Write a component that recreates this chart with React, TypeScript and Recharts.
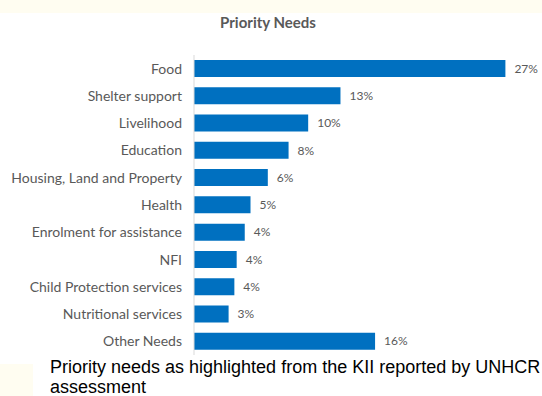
import { BarChart, Bar, XAxis, YAxis, LabelList } from "recharts";

const categories = [
  "Food",
  "Shelter support",
  "Livelihood",
  "Education",
  "Housing, Land and Property",
  "Health",
  "Enrolment for assistance",
  "NFI",
  "Child Protection services",
  "Nutritional services",
  "Other Needs",
];

// bar lengths as drawn (percent)
const shares = [27, 12.7, 9.9, 8.2, 6.4, 4.9, 4.4, 3.7, 3.5, 3.0, 15.7];

// labels printed next to each bar
const shareLabels = ["27%", "13%", "10%", "8%", "6%", "5%", "4%", "4%", "4%", "3%", "16%"];

const GREY = "#595959";
const BLUE = "#0070C0";

const data = categories.map((name, i) => ({ name, value: shares[i], label: shareLabels[i] }));

export default function App() {
  return (
    <div
      style={{
        position: "relative",
        width: 542,
        height: 396,
        background: "#ffffff",
        overflow: "hidden",
      }}
    >
      <style>{`body{margin:0}`}</style>

      {/* cream band at the top of the cropped page */}
      <div style={{ position: "absolute", left: 0, top: 0, width: 542, height: 13, background: "#fffdf1" }} />
      <div style={{ position: "absolute", left: 0, top: 364, width: 33, height: 32, background: "#fffdf1" }} />

      <div
        style={{
          position: "absolute",
          left: 0,
          top: 13,
          width: 536,
          textAlign: "center",
          fontFamily: "Lato, sans-serif",
          fontWeight: 700,
          fontSize: 15,
          color: GREY,
        }}
      >
        Priority Needs
      </div>

      <div style={{ position: "absolute", left: 0, top: 0 }}>
        <BarChart
          width={542}
          height={360}
          data={data}
          layout="vertical"
          margin={{ top: 55, right: 2, left: 0, bottom: 5 }}
        >
          <XAxis type="number" domain={[0, 30]} hide />
          <YAxis
            type="category"
            dataKey="name"
            width={194}
            tickLine={false}
            tickMargin={6}
            axisLine={{ stroke: "#d9d9d9" }}
            interval={0}
            tick={{ fill: GREY, fontSize: 14, fontFamily: "Lato, sans-serif" }}
          />
          <Bar dataKey="value" fill={BLUE} barSize={17} isAnimationActive={false}>
            <LabelList
              dataKey="label"
              position="right"
              offset={9}
              style={{ fill: GREY, fontSize: 12, fontFamily: "Lato, sans-serif" }}
            />
          </Bar>
        </BarChart>
      </div>

      <div
        style={{
          position: "absolute",
          left: 50,
          top: 357,
          width: 500,
          fontFamily: "'Liberation Sans', Arial, sans-serif",
          fontSize: 18,
          lineHeight: "20px",
          color: "#000000",
          whiteSpace: "nowrap",
        }}
      >
        Priority needs as highlighted from the KII reported by UNHCR
        <br />
        assessment
      </div>
    </div>
  );
}
